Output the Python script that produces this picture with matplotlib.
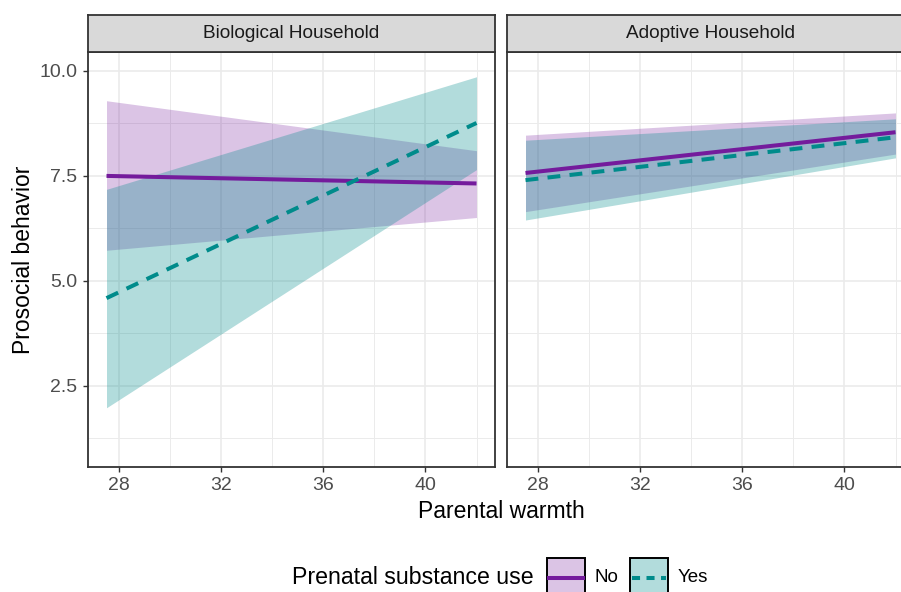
import matplotlib.pyplot as plt
from matplotlib.patches import Rectangle
from matplotlib.lines import Line2D

plt.rcParams['font.family'] = ['Liberation Sans', 'DejaVu Sans']

# Predicted values at the ends of the warmth range
warmth = [27.5, 42.0]
panels = ['Biological Household', 'Adoptive Household']

# Prenatal substance use: No
no_fit = {'Biological Household': [7.50, 7.32], 'Adoptive Household': [7.57, 8.54]}
no_low = {'Biological Household': [5.73, 6.51], 'Adoptive Household': [6.65, 8.02]}
no_high = {'Biological Household': [9.29, 8.10], 'Adoptive Household': [8.47, 9.00]}

# Prenatal substance use: Yes
yes_fit = {'Biological Household': [4.59, 8.76], 'Adoptive Household': [7.40, 8.42]}
yes_low = {'Biological Household': [1.98, 7.65], 'Adoptive Household': [6.45, 7.93]}
yes_high = {'Biological Household': [7.18, 9.86], 'Adoptive Household': [8.35, 8.86]}

x_ticks = [28, 32, 36, 40]
y_ticks = [2.5, 5.0, 7.5, 10.0]

purple = '#741B9C'
teal = '#008B8B'
border = '#333333'

fig = plt.figure(figsize=(9.01, 5.92), dpi=100)
W, H = 901, 592


def box(x0, y0, x1, y1):
    # pixel box (top-left origin) -> figure fraction rect
    return [x0 / W, 1 - y1 / H, (x1 - x0) / W, (y1 - y0) / H]


panel_x = [(88, 495), (507, 914)]
for i, name in enumerate(panels):
    x0, x1 = panel_x[i]
    ax = fig.add_axes(box(x0, 52, x1, 467))
    ax.set_xlim(26.775, 42.725)
    ax.set_ylim(0.57, 10.45)

    ax.set_xticks(x_ticks)
    ax.set_xticks([30, 34, 38, 42], minor=True)
    ax.set_yticks(y_ticks)
    ax.set_yticks([1.25, 3.75, 6.25, 8.75], minor=True)
    ax.grid(which='major', color='#EBEBEB', lw=1.2)
    ax.grid(which='minor', color='#EBEBEB', lw=0.7)
    ax.set_axisbelow(True)
    ax.tick_params(which='minor', length=0)
    ax.tick_params(which='major', length=3.5, width=1.0, color=border,
                   labelsize=14, labelcolor='#4D4D4D', pad=4)
    ax.set_xticklabels([str(t) for t in x_ticks])
    if i == 0:
        ax.set_yticklabels([f'{t:.1f}' for t in y_ticks])
    else:
        ax.tick_params(axis='y', left=False, labelleft=False)
    for sp in ax.spines.values():
        sp.set_color(border)
        sp.set_linewidth(1.3)

    ax.fill_between(warmth, no_low[name], no_high[name], color=purple,
                    alpha=0.26, lw=0)
    ax.fill_between(warmth, yes_low[name], yes_high[name], color=teal,
                    alpha=0.30, lw=0)
    ax.plot(warmth, no_fit[name], color=purple, lw=2.9, solid_capstyle='butt')
    ax.plot(warmth, yes_fit[name], color=teal, lw=2.9, ls=(0, (3.2, 2.3)),
            dash_capstyle='butt')

    # facet strip
    sax = fig.add_axes(box(x0, 15, x1, 52))
    sax.set_xticks([])
    sax.set_yticks([])
    sax.set_facecolor('#D9D9D9')
    for sp in sax.spines.values():
        sp.set_color(border)
        sp.set_linewidth(1.3)
    sax.text(0.5, 0.5, name, ha='center', va='center', fontsize=13.7,
             color='#1A1A1A', transform=sax.transAxes)

fig.text(501 / W, 1 - 511 / H, 'Parental warmth', ha='center', va='center',
         fontsize=16.5, color='black')
fig.text(24 / W, 1 - 260 / H, 'Prosocial behavior', ha='center', va='center',
         rotation=90, fontsize=16.5, color='black')

# legend drawn by hand so it can sit partly off the bottom edge like the original
fig.text(292 / W, 1 - 578 / H, 'Prenatal substance use', ha='left', va='center',
         fontsize=16.7, color='black')
keys = [(547, 'No', purple, '-', 0.26), (630, 'Yes', teal, (0, (2, 1.6)), 0.30)]
for kx, label, col, ls, a in keys:
    rx, ry = kx / W, 1 - 596 / H
    rw, rh = 38 / W, 38 / H
    fig.patches.append(Rectangle((rx, ry), rw, rh, transform=fig.transFigure,
                                 facecolor=col, alpha=a, edgecolor='none'))
    fig.patches.append(Rectangle((rx, ry), rw, rh, transform=fig.transFigure,
                                 facecolor='none', edgecolor='black', lw=1.4))
    fig.lines.append(Line2D([rx + 2 / W, rx + rw - 2 / W], [1 - 578 / H] * 2,
                            transform=fig.transFigure, color=col, lw=2.9,
                            ls=ls, dash_capstyle='butt'))
    fig.text((kx + 48) / W, 1 - 578 / H, label, ha='left', va='center',
             fontsize=13.5, color='black')

fig.savefig('out.png', dpi=100)
